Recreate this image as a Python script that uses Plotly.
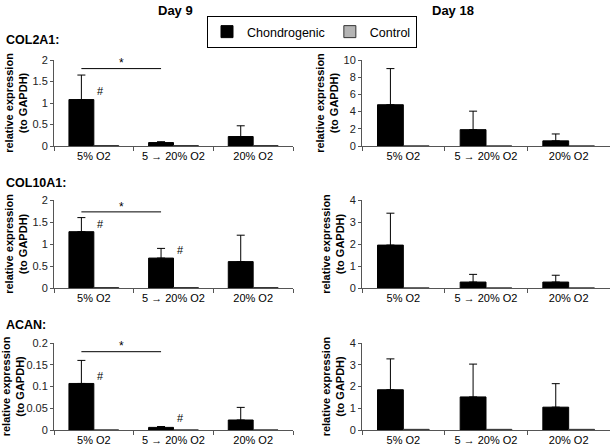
import plotly.graph_objects as go
from plotly.subplots import make_subplots

categories = ["5% O2", "5 → 20% O2", "20% O2"]
genes = ["COL2A1:", "COL10A1:", "ACAN:"]
days = ["Day 9", "Day 18"]

# Chondrogenic means and upper error (SD) per gene, per day
col2a1_d9_chondro = [1.08, 0.08, 0.22]
col2a1_d9_err = [0.57, 0.02, 0.25]
col2a1_d9_control = [0.01, 0.01, 0.01]
col2a1_d18_chondro = [4.8, 1.9, 0.6]
col2a1_d18_err = [4.2, 2.15, 0.8]
col2a1_d18_control = [0.0, 0.0, 0.0]

col10a1_d9_chondro = [1.28, 0.68, 0.6]
col10a1_d9_err = [0.32, 0.22, 0.6]
col10a1_d9_control = [0.01, 0.01, 0.01]
col10a1_d18_chondro = [1.95, 0.27, 0.27]
col10a1_d18_err = [1.45, 0.35, 0.31]
col10a1_d18_control = [0.0, 0.0, 0.0]

acan_d9_chondro = [0.107, 0.006, 0.023]
acan_d9_err = [0.053, 0.002, 0.029]
acan_d9_control = [0.0, 0.0, 0.0]
acan_d18_chondro = [1.85, 1.52, 1.05]
acan_d18_err = [1.42, 1.51, 1.08]
acan_d18_control = [0.03, 0.03, 0.03]

y_ranges = [[0, 2], [0, 10], [0, 2], [0, 4], [0, 0.2], [0, 4]]
y_dticks = [0.5, 2, 0.5, 1, 0.05, 1]

panels = [
    (col2a1_d9_chondro, col2a1_d9_err, col2a1_d9_control),
    (col2a1_d18_chondro, col2a1_d18_err, col2a1_d18_control),
    (col10a1_d9_chondro, col10a1_d9_err, col10a1_d9_control),
    (col10a1_d18_chondro, col10a1_d18_err, col10a1_d18_control),
    (acan_d9_chondro, acan_d9_err, acan_d9_control),
    (acan_d18_chondro, acan_d18_err, acan_d18_control),
]

# significance: (panel index, line y, star y) and hash marks (panel, category, y)
sig_lines = [(0, 1.8, 1.92), (2, 1.73, 1.85), (4, 0.18, 0.192)]
hash_marks = [(0, 0, 1.28), (2, 0, 1.45), (2, 1, 0.87), (4, 0, 0.125), (4, 1, 0.027)]

W, H = 613, 446
fig = make_subplots(rows=3, cols=2)

col_dom = [[54 / W, 293 / W], [362 / W, 610 / W]]
row_dom = [[1 - 146 / H, 1 - 60 / H], [1 - 288 / H, 1 - 200 / H], [1 - 430 / H, 1 - 343 / H]]

font_family = "Liberation Sans, Arial, sans-serif"

for i, (ch, err, ctl) in enumerate(panels):
    r, c = i // 2 + 1, i % 2 + 1
    fig.add_trace(go.Bar(
        x=categories, y=ch, name="Chondrogenic", marker_color="black",
        marker_line=dict(color="black", width=1),
        error_y=dict(type="data", array=err, arrayminus=[0] * 3, symmetric=False,
                     color="black", thickness=1, width=4),
        showlegend=(i == 0), legendgroup="ch"), row=r, col=c)
    fig.add_trace(go.Bar(
        x=categories, y=ctl, name="Control", marker_color="#b4b4b4",
        marker_line=dict(color="#333333", width=1),
        showlegend=(i == 0), legendgroup="ct"), row=r, col=c)

for i in range(6):
    r, c = i // 2 + 1, i % 2 + 1
    fig.update_xaxes(domain=col_dom[c - 1], type="category", tickson="boundaries",
                     ticks="outside", ticklen=4, tickcolor="#555", showline=True,
                     linecolor="#555", linewidth=1, showgrid=False,
                     tickfont=dict(size=11, color="black", family=font_family),
                     row=r, col=c)
    fig.update_yaxes(domain=row_dom[r - 1], range=y_ranges[i], dtick=y_dticks[i],
                     ticks="outside", ticklen=3, tickcolor="#555", showline=True,
                     linecolor="#555", linewidth=1, showgrid=False, zeroline=False,
                     tickfont=dict(size=11, color="#222", family=font_family),
                     title=dict(text="<b>relative expression<br>(to GAPDH)</b>",
                                font=dict(size=11, color="black", family=font_family),
                                standoff=2),
                     row=r, col=c)

off = -0.625 / 4
for (p, ly, sy) in sig_lines:
    xr = "x" if p == 0 else f"x{p + 1}"
    yr = "y" if p == 0 else f"y{p + 1}"
    fig.add_shape(type="line", xref=xr, yref=yr, x0=0 + off, x1=1 + off, y0=ly, y1=ly,
                  line=dict(color="black", width=1))
    fig.add_annotation(xref=xr, yref=yr, x=0.5 + off, y=sy, text="*", showarrow=False,
                       font=dict(size=12, color="black", family=font_family))
for (p, cat, hy) in hash_marks:
    xr = "x" if p == 0 else f"x{p + 1}"
    yr = "y" if p == 0 else f"y{p + 1}"
    fig.add_annotation(xref=xr, yref=yr, x=cat + 0.02, y=hy, text="#", showarrow=False,
                       xanchor="left",
                       font=dict(size=11, color="black", family=font_family))

# Day titles
for d, xc in zip(days, [175, 453]):
    fig.add_annotation(xref="paper", yref="paper", x=xc / W, y=1 - 11 / H, text=f"<b>{d}</b>",
                       xanchor="center", yanchor="middle",
                       showarrow=False, font=dict(size=13, color="black", family=font_family))
for g, yy in zip(genes, [40, 183, 325]):
    fig.add_annotation(xref="paper", yref="paper", x=4 / W, y=1 - yy / H, text=f"<b>{g}</b>",
                       xanchor="left", yanchor="middle", showarrow=False,
                       font=dict(size=12.5, color="black", family=font_family))

fig.update_layout(
    width=W, height=H, margin=dict(l=0, r=0, t=0, b=0, autoexpand=False),
    plot_bgcolor="white", paper_bgcolor="white",
    barmode="group", bargap=0.375, bargroupgap=0,
    legend=dict(orientation="h", x=312 / W, xanchor="center", y=1 - 16 / H, yanchor="top",
                bordercolor="black", borderwidth=1, bgcolor="white",
                font=dict(size=12.5, color="black", family=font_family),
                itemwidth=30, tracegroupgap=0),
    font=dict(family=font_family),
)

fig.write_html("out.html", config={"displayModeBar": False},
               post_script="document.body.style.margin='0';")
